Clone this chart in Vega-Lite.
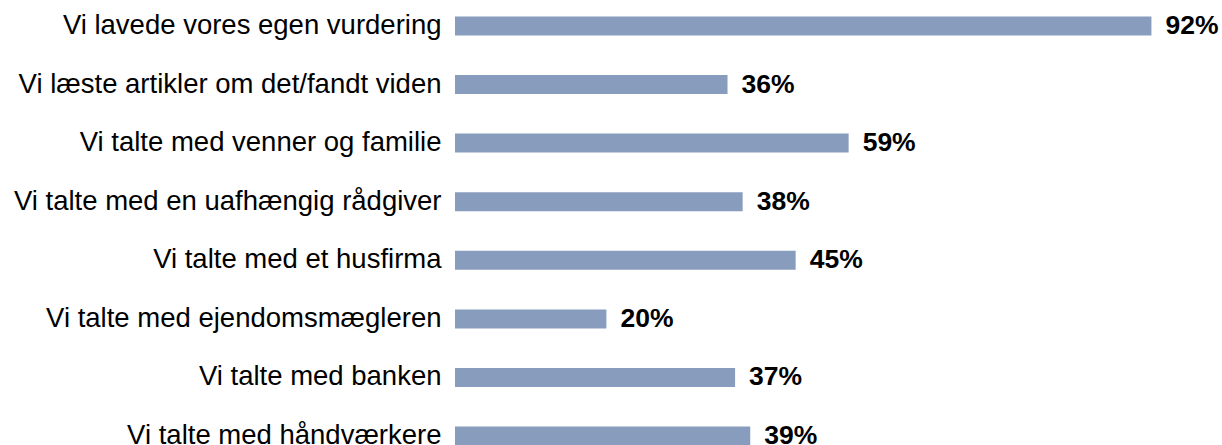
{
  "$schema": "https://vega.github.io/schema/vega-lite/v6.json",
  "width": 757,
  "height": 462,
  "autosize": {"type": "none"},
  "padding": {"left": 455, "top": 0, "right": 10, "bottom": 0},
  "background": "#ffffff",
  "data": {
    "values": [
      {"label": "Vi lavede vores egen vurdering", "value": 92, "txt": "92%"},
      {"label": "Vi læste artikler om det/fandt viden", "value": 36, "txt": "36%"},
      {"label": "Vi talte med venner og familie", "value": 52, "txt": "59%"},
      {"label": "Vi talte med en uafhængig rådgiver", "value": 38, "txt": "38%"},
      {"label": "Vi talte med et husfirma", "value": 45, "txt": "45%"},
      {"label": "Vi talte med ejendomsmægleren", "value": 20, "txt": "20%"},
      {"label": "Vi talte med banken", "value": 37, "txt": "37%"},
      {"label": "Vi talte med håndværkere", "value": 39, "txt": "39%"}
    ]
  },
  "encoding": {
    "y": {
      "field": "label",
      "type": "nominal",
      "sort": null,
      "scale": {"paddingInner": 0.676, "paddingOuter": 0.28},
      "axis": {
        "title": null,
        "domain": false,
        "ticks": false,
        "labelPadding": 14,
        "labelFontSize": 27.5,
        "labelFont": "Liberation Sans",
        "labelColor": "#000000",
        "labelLimit": 0
      }
    }
  },
  "layer": [
    {
      "mark": {"type": "bar", "color": "#889dbd"},
      "encoding": {
        "x": {"field": "value", "type": "quantitative", "scale": {"domain": [0, 100]}, "axis": null}
      }
    },
    {
      "mark": {"type": "text", "align": "left", "baseline": "middle", "dx": 14, "fontWeight": "bold", "font": "Liberation Sans", "fontSize": 26.5, "color": "#000000"},
      "encoding": {
        "x": {"field": "value", "type": "quantitative"},
        "text": {"field": "txt"}
      }
    }
  ],
  "config": {"view": {"stroke": null}}
}
